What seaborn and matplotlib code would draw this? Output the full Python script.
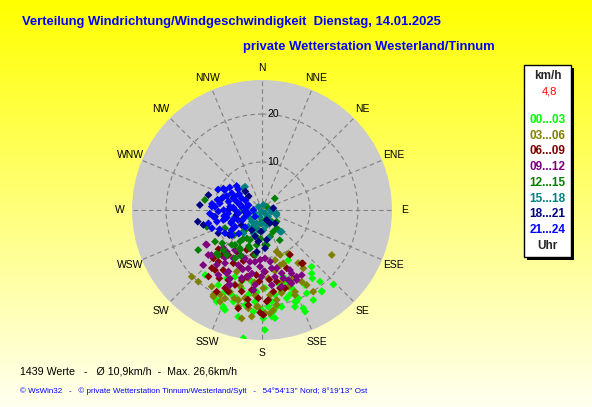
import numpy as np
import pandas as pd
import matplotlib
matplotlib.use("Agg")
import matplotlib.pyplot as plt
import seaborn as sns
from matplotlib.patches import Rectangle
from matplotlib.transforms import ScaledTranslation

sns.set_theme(style="white")
plt.rcParams["font.family"] = ["Liberation Sans", "DejaVu Sans"]

# time periods (Uhr) and their colours
periods = ["00...03", "03...06", "06...09", "09...12",
           "12...15", "15...18", "18...21", "21...24"]
period_colors = ["#00ff00", "#808000", "#800000", "#800080",
                 "#008000", "#008080", "#000080", "#0000ff"]
compass = ["N", "NNE", "NE", "ENE", "E", "ESE", "SE", "SSE",
           "S", "SSW", "SW", "WSW", "W", "WNW", "NW", "NNW"]
ring_ticks = [10, 20]

# wind direction (deg) / speed (km/h)
dir_00_03 = [138.8, 141.9, 143.6, 141, 143.8, 150.2, 151.8, 150.3, 157.2, 160.2, 161.8, 164.4,
             166.4, 162.2, 162.3, 166.5, 171.3, 174, 171.4, 176.3, 180.2, 179.3, 184.9, 184.4,
             189.2, 194.5, 196, 199.6, 204.4, 210.2, 206.7, 201.8, 200.3, 192.5, 188.3, 174.8,
             173.7, 152.3, 143.3, 177.8, 183.7, 188.2, 195.8, 202, 207.3, 159.2, 157.6, 161.2,
             168.5, 190.1, 197.4, 221.2, 206.3, 201.5, 136.2, 143.6, 157, 159.3, 178.6, 173.2, 149.3]
spd_00_03 = [15.7, 16.8, 17.7, 19.2, 21.1, 18.0, 19.7, 21.6, 22.2, 20.3, 18.6, 19.1,
             17.5, 15.7, 14.6, 16.1, 17.9, 19.2, 20.4, 20.2, 20.8, 22.6, 21.3, 19.2,
             17.9, 16.9, 19.1, 18.8, 18.7, 18.1, 21.0, 21.7, 22.2, 22.8, 27.0, 22.3,
             21.3, 11.8, 13.9, 16.3, 17.1, 15.1, 15.5, 15.0, 16.0, 17.4, 19.9, 21.3,
             20.6, 20.1, 20.0, 18.0, 21.3, 22.0, 21.5, 21.0, 23.0, 20.4, 25.0, 22.7, 10.7]

dir_03_06 = [165.4, 161.9, 155.4, 151, 158, 161, 166.7, 170.7, 171.2, 173.6, 178.3, 185.5,
             190.6, 193.8, 187.9, 182.2, 197.4, 202.7, 206.3, 209.3, 213.3, 194.7, 184.7, 179,
             174.6, 190.9, 201.4, 191.3, 202.3, 174.7, 164.6, 145.7, 148.7, 160.6, 226.5, 221.6,
             122.8, 175.6, 147.9, 149.2, 158.8, 144.7, 158.2, 158, 209.8, 204.6, 183.1, 196, 186, 168]
spd_03_06 = [10.8, 12.1, 15.6, 17.1, 18.4, 16.9, 17.8, 19.0, 20.0, 21.0, 21.5, 22.3,
             23.0, 20.7, 20.7, 20.2, 19.3, 20.0, 19.7, 20.7, 19.1, 19.4, 17.8, 16.3,
             17.8, 18.7, 18.3, 14.5, 13.9, 14.3, 15.5, 13.4, 10.6, 9.2, 20.2, 20.0,
             17.3, 21.6, 20.1, 18.2, 19.0, 14.9, 12.0, 10.1, 20.4, 21.0, 20.2, 16.5, 15.2, 13.0]

dir_06_09 = [220.8, 218.8, 220.2, 212.8, 208.3, 205.7, 199.8, 194, 187.3, 181, 179.3, 176,
             172, 163.6, 148, 143.3, 199.2, 192.9, 182.2, 177.2, 168.4, 205.3, 209, 188.2,
             182.4, 208.7, 216.8, 191, 201, 225.2, 221.8, 218, 193.6, 202.4, 142.6, 157,
             167, 177, 196, 185, 212, 200, 189, 174, 228]
spd_06_09 = [16.0, 17.8, 14.1, 14.9, 12.6, 16.2, 16.6, 17.5, 16.8, 21.4, 21.9, 18.8,
             17.2, 17.0, 11.0, 13.9, 12.9, 14.3, 14.9, 12.9, 15.2, 18.0, 19.5, 20.0,
             18.4, 10.3, 11.7, 9.5, 8.9, 14.3, 12.6, 15.9, 21.1, 18.4, 14.0, 13.2,
             16.7, 19.1, 15.2, 13.6, 16.8, 11.3, 18.9, 14.6, 12.2]

dir_09_12 = [230, 220, 214, 199.4, 187.7, 176.4, 170.6, 162.7, 155, 148.6, 159.4, 203.3,
             208.6, 213.9, 196.6, 189, 180.3, 185.3, 172.6, 165.6, 203.1, 214.8, 219.5, 210.7,
             182, 193.2, 169, 158, 153.6, 237.7, 228.2, 226.9, 209, 204, 154.9, 152.5,
             206, 193, 182, 171, 165.8, 162.7, 238.5, 225.7, 198, 192, 178, 205, 218, 186]
spd_09_12 = [14.6, 11.4, 10.1, 10.7, 10.9, 10.1, 12.3, 13.8, 13.8, 15.9, 15.6, 12.5,
             14.6, 16.3, 14.8, 13.4, 13.9, 15.7, 15.8, 16.5, 17.0, 13.5, 14.8, 11.7,
             11.8, 12.5, 14.2, 16.5, 16.3, 13.6, 14.1, 16.8, 15.1, 17.1, 14.6, 15.7,
             10.4, 11.1, 10.4, 10.9, 12.5, 14.9, 13.7, 11.3, 13.0, 14.2, 12.8, 15.8, 12.6, 16.8]

dir_12_15 = [48, 280, 253, 237.9, 224, 243.7, 232, 221, 214.8, 208, 210, 197.4,
             188.6, 220.8, 205, 188.5, 150, 140, 141, 163, 172, 188.8, 209, 218,
             226, 236, 224, 55, 128.5, 153, 149.5, 201.8, 220, 191, 208.8, 175,
             217.6, 180, 195, 213, 228, 200, 183, 205, 230]
spd_12_15 = [3.6, 12.1, 12.0, 15.7, 13.1, 8.6, 8.5, 9.6, 8.0, 6.7, 9.2, 8.4,
             7.4, 6.0, 4.2, 2.8, 2.0, 3.2, 4.9, 5.8, 7.4, 9.5, 11.5, 11.9,
             13.1, 11.8, 11.6, 1.2, 3.9, 5.1, 7.3, 6.7, 5.5, 4.2, 9.5, 7.3,
             9.2, 2.5, 5.5, 7.2, 7.8, 8.0, 6.0, 10.5, 10.8]

dir_15_18 = [324, 190, 197, 138, 245, 221, 219, 181, 163, 145.6, 109, 137.8,
             190.5, 200.5, 218.7, 15, 312, 100, 137, 201.7, 235, 276, 265.6, 256,
             243.8, 207.5, 176, 102.7, 140, 167, 90, 319]
spd_15_18 = [6.0, 0.4, 1.5, 0.9, 1.6, 3.2, 4.5, 2.8, 3.3, 2.9, 3.2, 6.1,
             4.2, 5.2, 6.2, 1.1, 1.0, 2.0, 1.9, 3.0, 3.0, 3.2, 4.6, 5.8,
             4.7, 3.9, 4.2, 3.1, 5.9, 6.0, 1.7, 6.0]

dir_18_21 = [285.6, 274.6, 286, 318, 316, 259.7, 255.7, 242, 233, 194.7, 171, 135.7,
             81, 182.6, 155, 257, 249, 259, 264, 283, 270, 262, 233.5, 207,
             186.7, 187, 175.5, 149]
spd_18_21 = [11.6, 13.0, 8.7, 5.2, 4.0, 13.6, 12.6, 10.3, 8.6, 5.7, 6.3, 3.9,
             2.4, 4.5, 2.3, 7.9, 6.8, 5.4, 3.6, 4.7, 7.0, 9.9, 5.3, 4.7,
             6.6, 8.8, 8.0, 3.2]

dir_21_24 = [299, 313.5, 311, 299, 291.6, 296, 300, 288, 284, 279, 274, 266,
             262, 256, 250, 255.5, 245.5, 238, 236.6, 264, 270, 279, 290, 248.5,
             247, 255.5, 256, 270, 226, 276, 268, 224.5, 238, 224.5, 275, 262,
             270, 258, 283, 292, 288, 265, 283, 247, 305, 305, 300, 277,
             298, 274, 261, 252, 283, 243, 230, 295]
spd_21_24 = [9.2, 7.3, 6.6, 7.2, 7.9, 6.3, 4.9, 5.5, 7.2, 8.9, 9.8, 10.9,
             10.2, 11.5, 11.1, 9.7, 9.7, 9.1, 7.6, 7.1, 5.6, 4.3, 3.0, 3.8,
             5.4, 8.3, 2.9, 1.8, 2.0, 6.7, 9.1, 5.0, 6.6, 6.9, 6.0, 5.0,
             8.0, 7.5, 4.5, 6.5, 8.5, 3.5, 9.5, 7.0, 5.8, 8.2, 4.0, 10.5,
             8.8, 10.5, 8.0, 6.2, 3.2, 4.5, 8.2, 10.1]

directions = [dir_00_03, dir_03_06, dir_06_09, dir_09_12,
              dir_12_15, dir_15_18, dir_18_21, dir_21_24]
speeds = [spd_00_03, spd_03_06, spd_06_09, spd_09_12,
          spd_12_15, spd_15_18, spd_18_21, spd_21_24]

frames = []
for p, d, s in zip(periods, directions, speeds):
    frames.append(pd.DataFrame({"period": p, "direction": d, "speed": s}))
df = pd.concat(frames, ignore_index=True)
df["theta"] = np.deg2rad(df["direction"])

W, H = 592, 407
fig = plt.figure(figsize=(W / 100, H / 100), dpi=100)

# yellow gradient background
bg = fig.add_axes([0, 0, 1, 1])
grad = np.linspace(0, 1, 256)
img = np.zeros((256, 1, 3))
img[:, 0, 0] = 1.0
img[:, 0, 1] = 1.0
img[:, 0, 2] = grad * 0.94
bg.imshow(img, aspect="auto", extent=[0, 1, 0, 1], origin="upper")
bg.set_axis_off()

# polar plot: centre (262,210) px, radius 130 px
ax = fig.add_axes([132 / W, 1 - 340 / H, 260 / W, 260 / H], projection="polar")
ax.set_facecolor("#cbcbcb")
sns.scatterplot(data=df, x="theta", y="speed", hue="period", hue_order=periods,
                palette=period_colors, marker="D", s=16, linewidth=0,
                legend=False, ax=ax, zorder=3)
ax.set_theta_zero_location("N")
ax.set_theta_direction(-1)
ax.set_ylim(0, 27.1)
ax.set_xticks(np.deg2rad(np.arange(0, 360, 22.5)))
ax.set_xticklabels(compass)
ax.set_yticks(ring_ticks)
ax.set_yticklabels([])
ax.grid(True, color="#808080", linestyle=(0, (4, 3)), linewidth=0.8)
ax.spines["polar"].set_visible(False)
ax.tick_params(axis="x", pad=-4, labelsize=7.5, colors="black")
ax.set_xlabel("")
ax.set_ylabel("")

# ring labels just right of the north spoke
shift = ScaledTranslation(5 / 100, 0, fig.dpi_scale_trans)
for t in ring_ticks:
    ax.text(0, t, str(t), transform=ax.transData + shift, fontsize=7.5,
            ha="left", va="center", color="black", zorder=4)

# titles
fig.text(22 / W, 1 - 22 / H, "Verteilung Windrichtung/Windgeschwindigkeit  Dienstag, 14.01.2025",
         color="#0000ff", fontsize=9.4, fontweight="bold", ha="left", va="center")
fig.text(243 / W, 1 - 47 / H, "private Wetterstation Westerland/Tinnum",
         color="#0000ff", fontsize=9.4, fontweight="bold", ha="left", va="center")

# legend box with shadow
bx0, bx1, by0, by1 = 524, 571, 65, 257
fig.add_artist(Rectangle(((bx0 + 3) / W, 1 - (by1 + 3) / H), (bx1 - bx0) / W, (by1 - by0) / H,
                         transform=fig.transFigure, facecolor="black", edgecolor="none"))
fig.add_artist(Rectangle((bx0 / W, 1 - by1 / H), (bx1 - bx0) / W, (by1 - by0) / H,
                         transform=fig.transFigure, facecolor="white", edgecolor="black",
                         linewidth=1))
cx = (bx0 + bx1) / 2 / W
fig.text(cx, 1 - 76 / H, "km/h", fontsize=8.5, fontweight="bold", ha="center", va="center")
fig.text(cx + 2 / W, 1 - 92 / H, "4,8", fontsize=8, color="red", ha="center", va="center")
for i, (p, c) in enumerate(zip(periods, period_colors)):
    fig.text(cx, 1 - (120 + i * 15.7) / H, p, fontsize=8.5, fontweight="bold",
             color=c, ha="center", va="center")
fig.text(cx, 1 - 246 / H, "Uhr", fontsize=8.5, fontweight="bold", ha="center", va="center")

# footer
fig.text(20 / W, 1 - 372 / H, "1439 Werte   -   Ø 10,9km/h  -  Max. 26,6km/h",
         fontsize=7.7, ha="left", va="center", color="black")
fig.text(20 / W, 1 - 391 / H,
         "© WsWin32   -   © private Wetterstation Tinnum/Westerland/Sylt   -   54°54'13'' Nord; 8°19'13'' Ost",
         fontsize=5.8, ha="left", va="center", color="#0000ff")

fig.savefig("out.png", dpi=100)
